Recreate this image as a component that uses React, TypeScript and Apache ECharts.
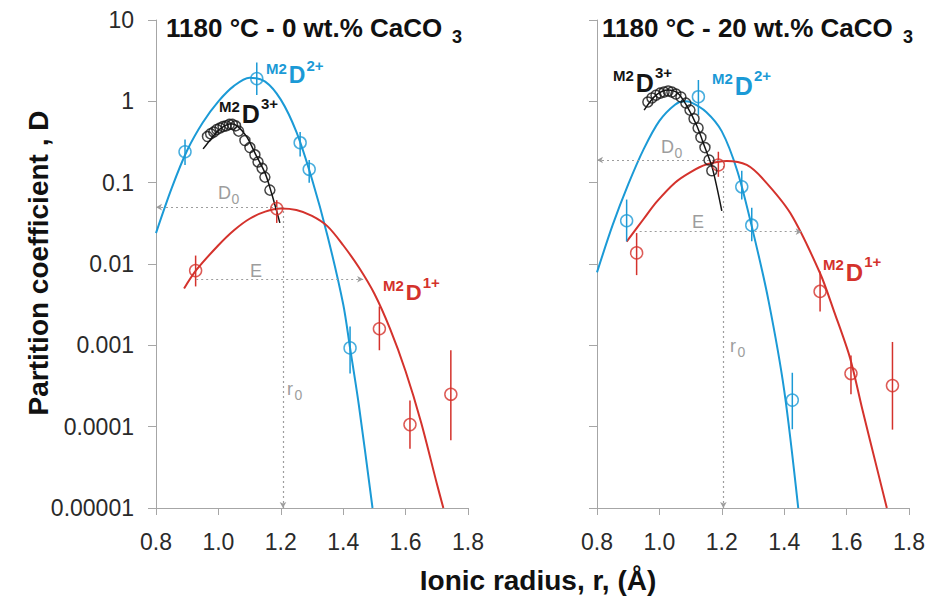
import React, { useEffect, useRef } from "react";
import * as echarts from "echarts";

// ---------- tick labels ----------
const xTickLabels = ["0.8", "1.0", "1.2", "1.4", "1.6", "1.8"];
const yTickLabels = ["0.00001", "0.0001", "0.001", "0.01", "0.1", "1", "10"];
const panelTitles = ["1180 °C - 0 wt.% CaCO", "1180 °C - 20 wt.% CaCO"];
const xAxisTitle = "Ionic radius, r, (Å)";
const yAxisTitle = "Partition coefficient , D";

// ---------- left panel (0 wt.% CaCO3) ----------
const left2FitR = [0.8, 0.85, 0.9, 0.95, 1.0, 1.05, 1.1, 1.15, 1.2, 1.25, 1.3, 1.35, 1.4, 1.422, 1.45, 1.494];
const left2FitD = [0.024, 0.085, 0.25, 0.55, 1.0, 1.55, 1.95, 1.75, 1.05, 0.42, 0.11, 0.022, 0.0032, 0.00093, 0.000186, 0.00001];
const left1FitR = [0.89, 0.93, 1.0, 1.05, 1.1, 1.15, 1.2, 1.25, 1.3, 1.35, 1.4, 1.45, 1.5, 1.55, 1.6, 1.65, 1.7, 1.721];
const left1FitD = [0.005, 0.0085, 0.017, 0.026, 0.036, 0.044, 0.048, 0.046, 0.039, 0.029, 0.017, 0.0091, 0.0043, 0.0016, 0.00048, 0.000112, 0.00002, 0.00001];
const left3FitR = [0.951, 0.98, 1.0, 1.02, 1.04, 1.06, 1.09, 1.12, 1.15, 1.17, 1.197];
const left3FitD = [0.26, 0.36, 0.44, 0.5, 0.53, 0.5, 0.37, 0.22, 0.13, 0.075, 0.032];

const left2ObsR = [0.893, 1.123, 1.262, 1.291, 1.422];
const left2ObsD = [0.24, 1.9, 0.31, 0.146, 0.00093];
const left2ObsLo = [0.165, 1.2, 0.21, 0.1, 0.00045];
const left2ObsHi = [0.34, 3.0, 0.42, 0.19, 0.0017];
const left1ObsR = [0.927, 1.187, 1.516, 1.614, 1.745];
const left1ObsD = [0.0083, 0.048, 0.0016, 0.000106, 0.00025];
const left1ObsLo = [0.0053, 0.032, 0.00087, 0.0000535, 0.000068];
const left1ObsHi = [0.0127, 0.061, 0.003, 0.00021, 0.00087];
const left3ObsR = [0.965, 0.975, 0.985, 0.995, 1.005, 1.015, 1.025, 1.035, 1.045, 1.055, 1.065, 1.085, 1.101, 1.117, 1.127, 1.14, 1.149, 1.165];
const left3ObsD = [0.37, 0.4, 0.42, 0.45, 0.47, 0.49, 0.5, 0.52, 0.52, 0.5, 0.43, 0.33, 0.27, 0.22, 0.18, 0.15, 0.117, 0.081];

const leftR0 = 1.207;
const leftD0 = 0.05;
const leftE = [0.927, 1.464, 0.0065]; // from, to, level

// ---------- right panel (20 wt.% CaCO3) ----------
const right2FitR = [0.8, 0.85, 0.9, 0.95, 1.0, 1.05, 1.08, 1.1, 1.15, 1.2, 1.25, 1.3, 1.35, 1.4, 1.445];
const right2FitD = [0.0079, 0.03, 0.095, 0.26, 0.575, 0.91, 1.0, 0.977, 0.74, 0.427, 0.138, 0.025, 0.0035, 0.00028, 0.00001];
const right1FitR = [0.895, 0.95, 0.991, 1.05, 1.1, 1.15, 1.216, 1.28, 1.333, 1.42, 1.515, 1.56, 1.611, 1.65, 1.7, 1.729];
const right1FitD = [0.0188, 0.036, 0.058, 0.1, 0.135, 0.167, 0.185, 0.165, 0.11, 0.042, 0.0077, 0.0026, 0.0007, 0.000166, 0.000028, 0.00001];
const right3FitR = [0.951, 0.99, 1.028, 1.06, 1.09, 1.12, 1.146, 1.17, 1.2];
const right3FitD = [0.78, 1.2, 1.38, 1.25, 0.85, 0.5, 0.27, 0.15, 0.045];

const right2ObsR = [0.895, 1.125, 1.264, 1.296, 1.426];
const right2ObsD = [0.034, 1.14, 0.089, 0.03, 0.000212];
const right2ObsLo = [0.019, 0.68, 0.062, 0.019, 0.000093];
const right2ObsHi = [0.062, 1.83, 0.14, 0.049, 0.00046];
const right1ObsR = [0.927, 1.189, 1.515, 1.614, 1.747];
const right1ObsD = [0.0137, 0.165, 0.0046, 0.00045, 0.00032];
const right1ObsLo = [0.0073, 0.118, 0.0026, 0.00025, 0.000092];
const right1ObsHi = [0.024, 0.24, 0.0081, 0.00075, 0.0011];
const right3ObsR = [0.963, 0.976, 0.989, 1.002, 1.015, 1.028, 1.04, 1.053, 1.069, 1.085, 1.098, 1.111, 1.124, 1.133, 1.146, 1.159, 1.168];
const right3ObsD = [0.98, 1.1, 1.19, 1.26, 1.3, 1.34, 1.3, 1.23, 1.13, 0.95, 0.78, 0.61, 0.47, 0.36, 0.27, 0.19, 0.14];

const rightR0 = 1.205;
const rightD0 = 0.19;
const rightE = [0.927, 1.456, 0.025];

// ---------- styles ----------
const BLUE = "#1b9ad6";
const RED = "#d4322c";
const BLACK = "#151515";
const GREY = "#9d9d9d";
const AXIS = "#a6a6a6";
const FONT = "'Liberation Sans', Arial, Helvetica, sans-serif";

const zip = (a: number[], b: number[]) => a.map((v, i) => [v, b[i]]);

function fitLine(idx: number, r: number[], d: number[], color: string, width: number) {
  return {
    type: "line",
    xAxisIndex: idx,
    yAxisIndex: idx,
    data: zip(r, d),
    smooth: 0.3,
    symbol: "none",
    showSymbol: false,
    silent: true,
    lineStyle: { color, width },
    z: 3,
  };
}

function errBars(idx: number, r: number[], lo: number[], hi: number[], color: string) {
  return {
    type: "custom",
    xAxisIndex: idx,
    yAxisIndex: idx,
    silent: true,
    z: 4,
    data: r.map((v, i) => [v, lo[i], hi[i]]),
    renderItem: (params: any, api: any) => {
      const p1 = api.coord([api.value(0), api.value(1)]);
      const p2 = api.coord([api.value(0), api.value(2)]);
      return {
        type: "line",
        shape: { x1: p1[0], y1: p1[1], x2: p2[0], y2: p2[1] },
        style: { stroke: color, lineWidth: 1.5 },
      };
    },
  };
}

function circles(idx: number, r: number[], d: number[], color: string, size: number) {
  return {
    type: "scatter",
    xAxisIndex: idx,
    yAxisIndex: idx,
    silent: true,
    z: 5,
    data: zip(r, d),
    symbol: "circle",
    symbolSize: size,
    itemStyle: { color: "rgba(255,255,255,0)", borderColor: color, borderWidth: 1.5 },
  };
}

function guides(idx: number, r0: number, d0: number, e: number[]) {
  return {
    type: "line",
    xAxisIndex: idx,
    yAxisIndex: idx,
    data: [],
    silent: true,
    z: 1,
    markLine: {
      silent: true,
      animation: false,
      symbol: ["arrow", "none"],
      symbolSize: [5, 6],
      label: { show: false },
      lineStyle: { color: GREY, type: [2, 3], width: 1.2 },
      emphasis: { disabled: true },
      data: [
        [{ coord: [0.8, d0] }, { coord: [r0, d0] }],
        [{ coord: [r0, 0.00001] }, { coord: [r0, d0] }],
        [{ coord: [e[1], e[2]] }, { coord: [e[0], e[2]] }],
      ],
    },
  };
}

function txt(text: string, x: number, y: number, size: number, color: string, bold = true, align = "left") {
  return {
    type: "text",
    x,
    y,
    silent: true,
    z: 20,
    style: {
      text,
      fill: color,
      fontSize: size,
      fontWeight: bold ? "bold" : "normal",
      fontFamily: FONT,
      align,
      verticalAlign: "middle",
    },
  };
}

// superscript-style species label: M2 D charge
function speciesLabel(x: number, y: number, color: string, dSize: number, charge: string) {
  const small = 15;
  const mW = 1.389 * small;
  const dW = 0.722 * dSize;
  return [
    txt("M2", x, y - dSize * 0.3, small, color),
    txt("D", x + mW + 2, y, dSize, color),
    txt(charge, x + mW + 2 + dW + 1, y - dSize * 0.42, small, color),
  ];
}

function subLabel(main: string, sub: string, x: number, y: number, size: number) {
  const w = main === "r" ? 0.389 * size : 0.722 * size;
  return [txt(main, x, y, size, GREY, false), txt(sub, x + w + 0.5, y + size * 0.35, Math.round(size * 0.75), GREY, false)];
}

export default function App() {
  const ref = useRef<HTMLDivElement>(null);

  useEffect(() => {
    if (!ref.current) return;
    const chart = echarts.init(ref.current, undefined, { renderer: "svg" });

    const grids = [
      { left: 156, top: 20, width: 312, height: 488 },
      { left: 597, top: 20, width: 312, height: 488 },
    ];

    const xAxes = [0, 1].map((i) => ({
      type: "value",
      gridIndex: i,
      min: 0.8,
      max: 1.8,
      interval: 0.2,
      axisLine: { show: true, onZero: false, lineStyle: { color: AXIS, width: 1 } },
      axisTick: { show: true, length: 7, lineStyle: { color: AXIS } },
      axisLabel: {
        margin: 22,
        fontSize: 23,
        color: "#2a2a2a",
        fontFamily: FONT,
        formatter: (v: number) => xTickLabels[Math.round((v - 0.8) / 0.2)] ?? "",
      },
      splitLine: { show: false },
    }));

    const yAxes = [0, 1].map((i) => ({
      type: "log",
      logBase: 10,
      gridIndex: i,
      min: 0.00001,
      max: 10,
      splitNumber: 6,
      axisLine: { show: true, lineStyle: { color: AXIS, width: 1 } },
      axisTick: { show: true, length: 8, lineStyle: { color: AXIS } },
      minorTick: { show: false },
      axisLabel: {
        show: i === 0,
        margin: 22,
        fontSize: 23,
        color: "#2a2a2a",
        fontFamily: FONT,
        formatter: (v: number) => yTickLabels[Math.round(Math.log10(v)) + 5] ?? "",
      },
      splitLine: { show: false },
    }));

    const series: any[] = [
      // left
      guides(0, leftR0, leftD0, leftE),
      fitLine(0, left2FitR, left2FitD, BLUE, 2),
      fitLine(0, left1FitR, left1FitD, RED, 2),
      fitLine(0, left3FitR, left3FitD, BLACK, 1.5),
      errBars(0, left2ObsR, left2ObsLo, left2ObsHi, BLUE),
      errBars(0, left1ObsR, left1ObsLo, left1ObsHi, RED),
      circles(0, left2ObsR, left2ObsD, BLUE, 12),
      circles(0, left1ObsR, left1ObsD, RED, 12),
      circles(0, left3ObsR, left3ObsD, BLACK, 10),
      // right
      guides(1, rightR0, rightD0, rightE),
      fitLine(1, right2FitR, right2FitD, BLUE, 2),
      fitLine(1, right1FitR, right1FitD, RED, 2),
      fitLine(1, right3FitR, right3FitD, BLACK, 1.5),
      errBars(1, right2ObsR, right2ObsLo, right2ObsHi, BLUE),
      errBars(1, right1ObsR, right1ObsLo, right1ObsHi, RED),
      circles(1, right2ObsR, right2ObsD, BLUE, 12),
      circles(1, right1ObsR, right1ObsD, RED, 12),
      circles(1, right3ObsR, right3ObsD, BLACK, 10),
    ];

    const graphic: any[] = [
      // titles
      txt(panelTitles[0], 166, 28, 26, "#111"),
      txt("3", 452, 37, 18, "#111"),
      txt(panelTitles[1], 602, 28, 26, "#111"),
      txt("3", 903, 37, 18, "#111"),
      // axis titles
      txt(xAxisTitle, 538, 580, 28, "#111", true, "center"),
      {
        ...txt(yAxisTitle, 0, 0, 28, "#111", true, "center"),
        x: 38,
        y: 263,
        rotation: Math.PI / 2,
      },
      // species labels left
      ...speciesLabel(266, 75, BLUE, 23, "2+"),
      ...speciesLabel(219, 114, BLACK, 25, "3+"),
      ...speciesLabel(383, 292, RED, 22, "1+"),
      // species labels right
      ...speciesLabel(613, 83, BLACK, 25, "3+"),
      ...speciesLabel(712, 86, BLUE, 25, "2+"),
      ...speciesLabel(823, 272, RED, 24, "1+"),
      // grey guide labels left
      ...subLabel("D", "0", 218, 193, 18),
      txt("E", 250, 271, 18, GREY, false),
      ...subLabel("r", "0", 287, 389, 18),
      // grey guide labels right
      ...subLabel("D", "0", 661, 147, 18),
      txt("E", 692, 222, 18, GREY, false),
      ...subLabel("r", "0", 730, 346, 18),
    ];

    chart.setOption({
      animation: false,
      backgroundColor: "#ffffff",
      grid: grids,
      xAxis: xAxes,
      yAxis: yAxes,
      series,
      graphic,
    });

    return () => chart.dispose();
  }, []);

  return (
    <div
      ref={ref}
      style={{ position: "absolute", left: 0, top: 0, width: 930, height: 597 }}
    />
  );
}
